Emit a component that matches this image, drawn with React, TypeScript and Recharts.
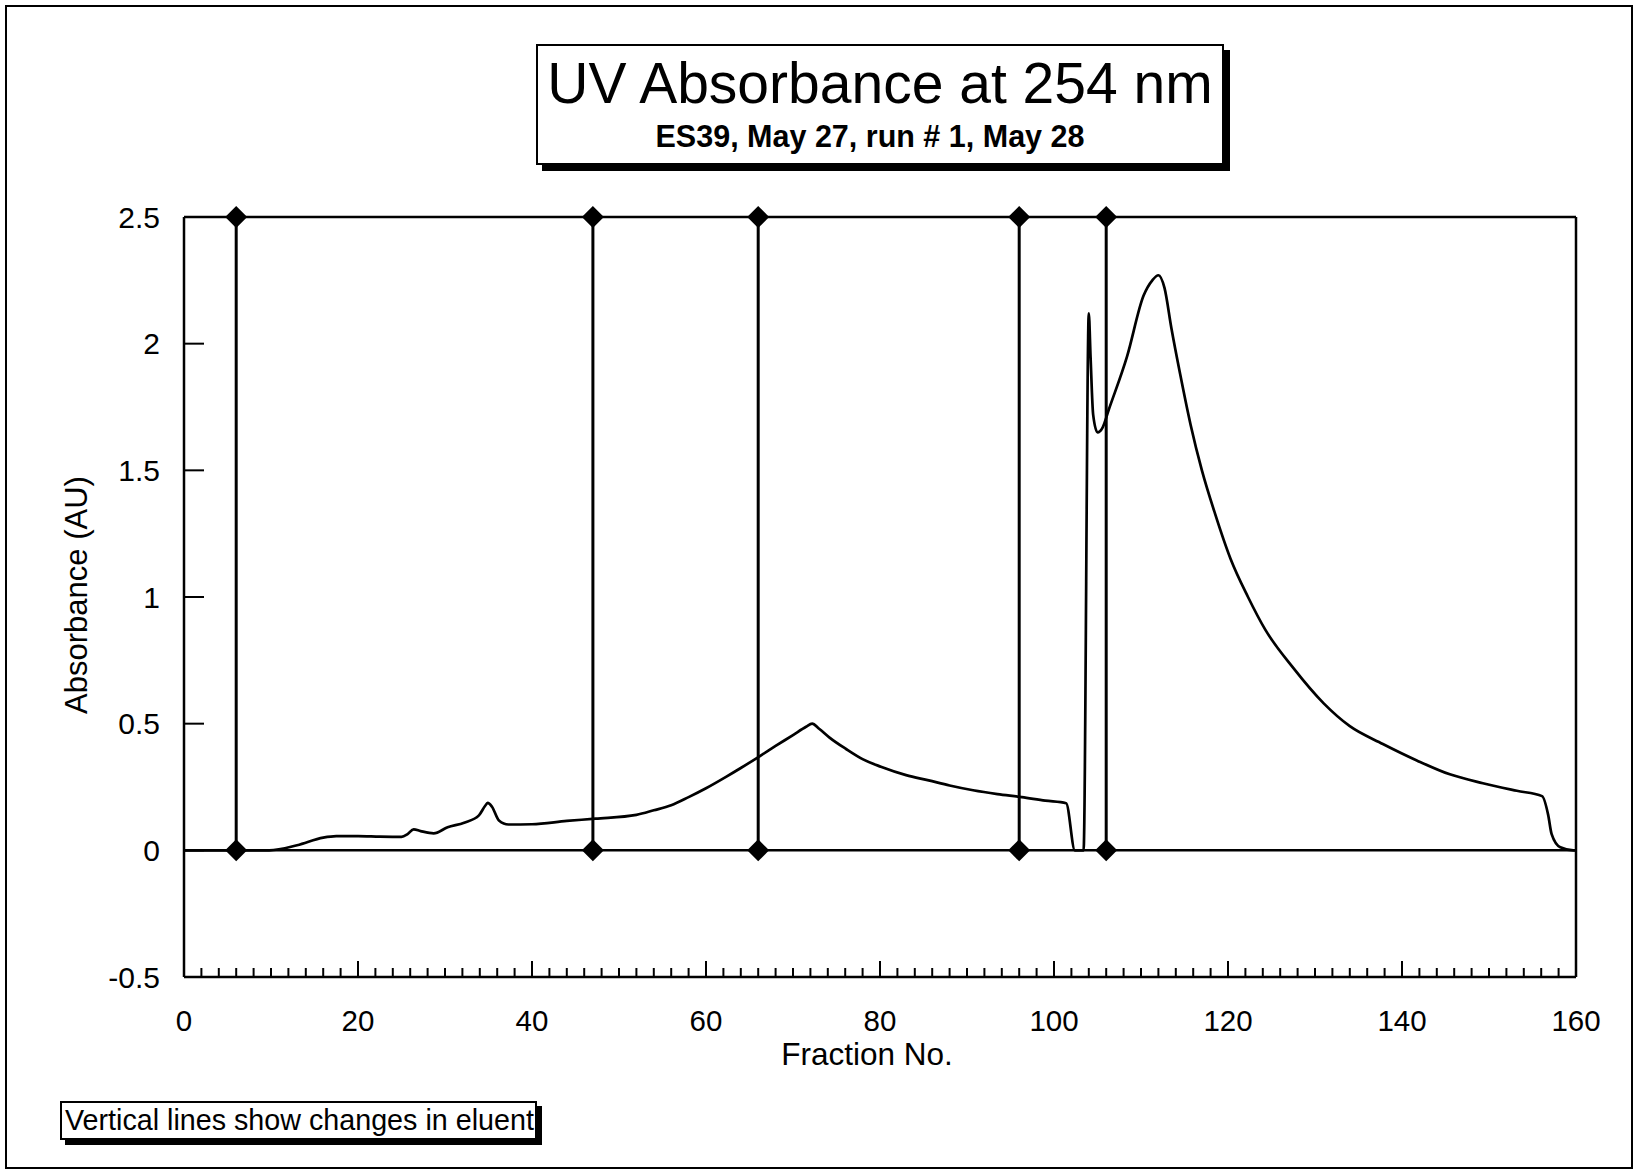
import React from 'react';
import { ComposedChart, Line, Scatter, XAxis, YAxis, ReferenceLine } from 'recharts';

const fractionNo = [
  0, 9.8, 13, 16, 17.5, 20, 22.5, 25, 25.7, 26.4, 27.2, 28.7, 30.3, 32.2, 33.9, 34.6, 34.9, 35.4, 36.2, 37.3,
  40, 44, 47.3, 52, 54, 56, 58, 60, 62.3, 64, 66.2, 68, 70, 71.5, 72.2, 73, 74.2, 76.1, 78, 80.1,
  83, 85.6, 88, 90.7, 93.5, 96.3, 99, 101.4, 102.4, 103.4, 104.0, 104.2, 104.5, 105.0, 105.6, 106.3, 108.4, 110.3, 111.3, 112.0,
  112.7, 113.5, 114.5, 115.7, 117.0, 118.5, 120.3, 122.3, 124.3, 127.5, 131, 134, 137.8, 141.7, 145.5, 149.3, 153.2, 156.1, 156.8, 157.2,
  158.2, 159.7, 160,
];
const absorbance = [
  0, 0, 0.02, 0.05, 0.056, 0.056, 0.054, 0.053, 0.064, 0.083, 0.076, 0.067, 0.091, 0.109, 0.138, 0.175, 0.187, 0.172, 0.118, 0.102,
  0.103, 0.116, 0.125, 0.14, 0.158, 0.178, 0.21, 0.245, 0.29, 0.325, 0.372, 0.412, 0.455, 0.488, 0.5, 0.48, 0.445, 0.4, 0.36, 0.33,
  0.297, 0.276, 0.256, 0.237, 0.222, 0.21, 0.196, 0.186, 0, 0, 2.12, 1.95, 1.72, 1.65, 1.67, 1.74, 1.95, 2.19, 2.25, 2.27,
  2.22, 2.06, 1.88, 1.68, 1.5, 1.33, 1.15, 1.0, 0.87, 0.72, 0.58, 0.49, 0.42, 0.355, 0.3, 0.265, 0.235, 0.214, 0.14, 0.064,
  0.012, 0, 0,
];
const eluentChanges = [6, 47, 66, 96, 106];
const yTicks = [-0.5, 0, 0.5, 1, 1.5, 2, 2.5];
const xMajorTicks = [0, 20, 40, 60, 80, 100, 120, 140, 160];
const xMinorStep = 2;

const FONT = '"Liberation Sans", Arial, sans-serif';

const curve = fractionNo.map((x, i) => ({ x, y: absorbance[i] }));
const diamonds = eluentChanges.flatMap((x) => [{ x, y: 0 }, { x, y: 2.5 }]);
const xTicks: number[] = [];
for (let v = xMajorTicks[0]; v <= xMajorTicks[xMajorTicks.length - 1]; v += xMinorStep) xTicks.push(v);

const XTick = (props: any) => {
  const { x, y, payload } = props;
  const v = payload.value as number;
  const major = xMajorTicks.includes(v);
  return (
    <g>
      {v !== 0 && v !== 160 && (
        <line x1={x} x2={x} y1={y} y2={y - (major ? 16 : 9)} stroke="#000" strokeWidth={2} />
      )}
      {major && (
        <text x={x} y={y + 43} textAnchor="middle" dominantBaseline="central" fontFamily={FONT} fontSize={29.5} fill="#000">
          {v}
        </text>
      )}
    </g>
  );
};

const YTick = (props: any) => {
  const { x, y, payload } = props;
  const v = payload.value as number;
  return (
    <g>
      {v !== -0.5 && v !== 2.5 && <line x1={x} x2={x + 20} y1={y} y2={y} stroke="#000" strokeWidth={2} />}
      <text x={x - 24} y={y} textAnchor="end" dominantBaseline="central" fontFamily={FONT} fontSize={30} fill="#000">
        {v}
      </text>
    </g>
  );
};

const Diamond = (props: any) => {
  const { cx, cy } = props;
  const r = 11;
  return <polygon points={`${cx},${cy - r} ${cx + r},${cy} ${cx},${cy + r} ${cx - r},${cy}`} fill="#000" />;
};

export default function App() {
  return (
    <div style={{ position: 'absolute', left: 0, top: 0, width: 1644, height: 1175, background: '#fff', fontFamily: FONT }}>
      <div style={{ position: 'absolute', left: 5, top: 5, width: 1628, height: 1164, border: '2px solid #000', boxSizing: 'border-box' }} />
      <ComposedChart
        width={1644}
        height={1175}
        data={curve}
        margin={{ top: 217, right: 68, bottom: 98, left: 84 }}
        style={{ position: 'absolute', left: 0, top: 0 }}
      >
        <XAxis
          type="number"
          dataKey="x"
          domain={[0, 160]}
          ticks={xTicks}
          interval={0}
          height={100}
          tickSize={0}
          tickMargin={0}
          tickLine={false}
          tick={<XTick />}
          axisLine={{ stroke: '#000', strokeWidth: 2.5 }}
        />
        <YAxis
          type="number"
          dataKey="y"
          domain={[-0.5, 2.5]}
          ticks={yTicks}
          interval={0}
          width={100}
          tickSize={0}
          tickMargin={0}
          tickLine={false}
          tick={<YTick />}
          axisLine={{ stroke: '#000', strokeWidth: 2.5 }}
        />
        <ReferenceLine y={2.5} stroke="#000" strokeWidth={2.5} />
        <ReferenceLine y={0} stroke="#000" strokeWidth={2.5} />
        <ReferenceLine x={160} stroke="#000" strokeWidth={2.5} />
        {eluentChanges.map((v) => (
          <ReferenceLine
            key={v}
            segment={[
              { x: v, y: 0 },
              { x: v, y: 2.5 },
            ]}
            stroke="#000"
            strokeWidth={3}
          />
        ))}
        <Line type="monotone" dataKey="y" stroke="#000" strokeWidth={2.7} dot={false} isAnimationActive={false} />
        <Scatter data={diamonds} dataKey="y" shape={<Diamond />} isAnimationActive={false} />
      </ComposedChart>

      <div
        style={{
          position: 'absolute',
          left: 536,
          top: 44,
          width: 688,
          height: 121,
          border: '2px solid #000',
          boxSizing: 'border-box',
          background: '#fff',
          boxShadow: '6px 6px 0 #000',
          textAlign: 'center',
        }}
      >
        <div style={{ position: 'absolute', left: 0, right: 0, top: 5, fontSize: 57, lineHeight: '64px', color: '#000' }}>
          UV Absorbance at 254 nm
        </div>
        <div style={{ position: 'absolute', left: 0, right: 20, top: 73, fontSize: 30.5, lineHeight: '34px', fontWeight: 'bold', color: '#000' }}>
          ES39, May 27, run # 1, May 28
        </div>
      </div>

      <div
        style={{
          position: 'absolute',
          left: 77 - 150,
          top: 595 - 20,
          width: 300,
          height: 40,
          lineHeight: '40px',
          textAlign: 'center',
          fontSize: 31,
          transform: 'rotate(-90deg)',
          color: '#000',
        }}
      >
        Absorbance (AU)
      </div>
      <div
        style={{
          position: 'absolute',
          left: 867 - 150,
          top: 1054 - 20,
          width: 300,
          height: 40,
          lineHeight: '40px',
          textAlign: 'center',
          fontSize: 31.5,
          color: '#000',
        }}
      >
        Fraction No.
      </div>

      <div
        style={{
          position: 'absolute',
          left: 60,
          top: 1101,
          width: 477,
          height: 39,
          border: '2px solid #000',
          boxSizing: 'border-box',
          background: '#fff',
          boxShadow: '5px 5px 0 #000',
          fontSize: 28.7,
          lineHeight: '35px',
          paddingLeft: 3,
          whiteSpace: 'nowrap',
          color: '#000',
        }}
      >
        Vertical lines show changes in eluent
      </div>
    </div>
  );
}
